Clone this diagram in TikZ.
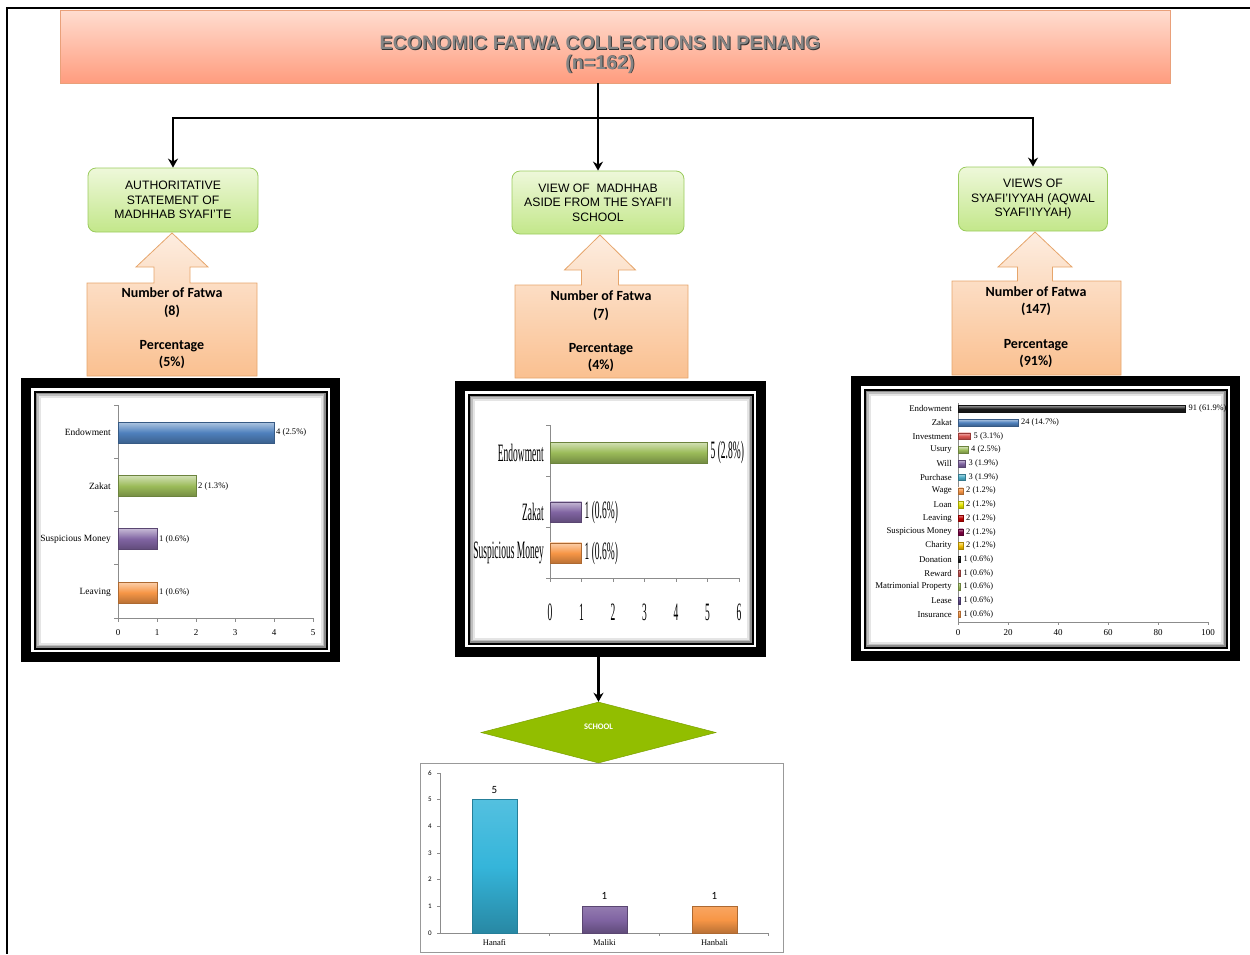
\documentclass[tikz,border=0pt]{standalone}
\usepackage{fontspec}
\setmainfont{Liberation Serif}
\newfontfamily\arialf{Liberation Sans}
\newfontfamily\calf{Carlito}
\usetikzlibrary{shapes.geometric,arrows.meta,fit}
\definecolor{xblue}{HTML}{4F81BD}
\definecolor{xgreen}{HTML}{9BBB59}
\definecolor{xpurple}{HTML}{8064A2}
\definecolor{xorange}{HTML}{F79646}
\definecolor{xred}{HTML}{D9534F}
\definecolor{xcyan}{HTML}{4BACC6}
\definecolor{xcyanb}{HTML}{35B5DA}
\definecolor{xyellow}{HTML}{E6E600}
\definecolor{xdred}{HTML}{C00000}
\definecolor{xmaroon}{HTML}{7A0040}
\definecolor{xgold}{HTML}{F2BE00}
\definecolor{xblack}{HTML}{1A1A1A}
\definecolor{xrose}{HTML}{C0504D}
\definecolor{xdpurple}{HTML}{5F4B8B}
\definecolor{ttop}{HTML}{FFDDD0}
\definecolor{tbot}{HTML}{FF9C7E}
\definecolor{tdraw}{HTML}{E9A07A}
\definecolor{gtop}{HTML}{EEF8DA}
\definecolor{gbot}{HTML}{C3E78A}
\definecolor{gdraw}{HTML}{9BCB5E}
\definecolor{ctop}{HTML}{FDEDE0}
\definecolor{cbot}{HTML}{FAC090}
\definecolor{cdraw}{HTML}{E6A56B}
\definecolor{schoolg}{HTML}{92BE00}
\newcommand\cnd[1]{\scalebox{0.38}[1]{#1}}
\newcommand\mkbar[5]{\shade[top color=#5!45!white, bottom color=#5!75!black, middle color=#5, draw=#5!70!black, line width=0.4pt] (#1,{#2-#4/2}) rectangle ({#1+#3},{#2+#4/2});}
\newcommand\mkcol[5]{\shade[top color=#5!85!white, bottom color=#5!75!black, middle color=#5, draw=#5!70!black, line width=0.4pt] (#1,#2) rectangle ({#1+#3},#4);}
\newcommand\upcallout[9]{\shade[top color=ctop, bottom color=cbot, draw=cdraw, line width=0.8pt] (#1,#4) -- (#1,#3) -- ({#5-#9},#3) -- ({#5-#9},#7) -- ({#5-#8},#7) -- (#5,#6) -- ({#5+#8},#7) -- ({#5+#9},#7) -- ({#5+#9},#3) -- (#2,#3) -- (#2,#4) -- cycle;}
\newcommand\chartframe[5]{%
  \fill[black] (#2,#3) rectangle (#4,#5);
  \fill[white] ({#2+10},{#3+10}) rectangle ({#4-10},{#5-10});
  \fill[black] ({#2+12.5},{#3+12.5}) rectangle ({#4-12.5},{#5-12.5});
  \fill[black!45] ({#2+14.5},{#3+14.5}) rectangle ({#4-14.5},{#5-14.5});
  \fill[black!25] ({#2+16},{#3+16}) rectangle ({#4-16},{#5-16});
  \fill[black!10] ({#2+17.5},{#3+17.5}) rectangle ({#4-17.5},{#5-17.5});
  \fill[white] ({#2+19.5},{#3+19.5}) rectangle ({#4-19.5},{#5-19.5});
  \node[fit={(#2,#3)(#4,#5)}, inner sep=0pt] (#1) {};
}
\begin{document}
\begin{tikzpicture}[x=1pt,y=-1pt,
  conn/.style={line width=2.2pt,-{Stealth[length=9pt,width=10pt]}},
  plain/.style={line width=2.2pt},
  greenbox/.style={rounded corners=8pt, top color=gtop, bottom color=gbot, draw=gdraw, line width=0.8pt, inner sep=0pt, align=center, font=\arialf\fontsize{12.2}{14.5}\selectfont},
  calltext/.style={align=center, font=\calf\bfseries\fontsize{14}{17.3}\selectfont, inner sep=0pt},
  axisc/.style={draw=black!45, line width=0.6pt},
  catL/.style={anchor=east, font=\fontsize{9.5}{10}\selectfont, inner sep=0pt},
  valL/.style={anchor=west, font=\fontsize{8.6}{9}\selectfont, inner sep=0pt},
  tickL/.style={font=\fontsize{9}{10}\selectfont, inner sep=0pt},
  catM/.style={anchor=east, font=\fontsize{25}{26}\selectfont, inner sep=0pt},
  valM/.style={anchor=west, font=\fontsize{25}{26}\selectfont, inner sep=0pt},
  catR/.style={anchor=east, font=\fontsize{8.8}{9}\selectfont, inner sep=0pt},
  valR/.style={anchor=west, font=\fontsize{8.4}{9}\selectfont, inner sep=0pt},
  titletext/.style={font=\arialf\bfseries\fontsize{19.6}{21}\selectfont, inner sep=0pt}
]
\useasboundingbox (0,0) rectangle (1250,954);
% page frame
\draw[line width=2pt] (1250,7.5) -- (7,7.5) -- (7,954);

% title
\node[top color=ttop, bottom color=tbot, draw=tdraw, line width=0.8pt, minimum width=1110, minimum height=73, inner sep=0pt] (tt) at (615,46.5) {};
\node[titletext, text=black!80] (t1s) at (600.9,43.9) {ECONOMIC FATWA COLLECTIONS IN PENANG};
\node[titletext, text=black!48] (t1) at (600,43) {ECONOMIC FATWA COLLECTIONS IN PENANG};
\node[titletext, text=black!80] (t2s) at (600.9,64.9) {(n=162)};
\node[titletext, text=black!48] (t2) at (600,64) {(n=162)};

% green boxes
\node[greenbox, minimum width=170, minimum height=64] (gl) at (173,200) {AUTHORITATIVE\\STATEMENT OF\\MADHHAB SYAFI’TE};
\node[greenbox, minimum width=172, minimum height=63] (gm) at (598,202.5) {VIEW OF~ MADHHAB\\ASIDE FROM THE SYAFI’I\\SCHOOL};
\node[greenbox, minimum width=149, minimum height=64] (gr) at (1033,199) {VIEWS OF\\SYAFI’IYYAH (AQWAL\\SYAFI’IYYAH)};

% connectors from title
\coordinate (j) at (598,118);
\draw[plain] (tt.south -| j) -- (j);
\draw[conn] (j) -| (gl.north);
\draw[conn] (j) -- (gm.north);
\draw[conn] (j) -| (gr.north);

% orange up-arrow callouts
\upcallout{87}{257}{283}{376}{172}{233}{267}{36}{18}
\upcallout{515}{688}{285}{378}{600}{235}{270}{35.5}{18.5}
\upcallout{952}{1121}{281}{375}{1035}{232}{267}{37}{17.5}
\node[calltext] (cl) at (172,328.5) {Number of Fatwa\\(8)\\[17.3pt]Percentage\\(5\%)};
\node[calltext] (cm) at (601,331.5) {Number of Fatwa\\(7)\\[17.3pt]Percentage\\(4\%)};
\node[calltext] (cr) at (1036,327) {Number of Fatwa\\(147)\\[17.3pt]Percentage\\(91\%)};

% chart frames
\chartframe{fl}{21}{378}{340}{662}
\chartframe{fm}{455}{381}{766}{657}
\chartframe{fr}{851}{376}{1240}{661}

% ---- left chart
\draw[axisc] (118,405) -- (118,618) -- (313,618);
\foreach \yy in {405,458.25,511.5,564.75,618} \draw[axisc] (114,\yy) -- (118,\yy);
\foreach \k in {0,...,5} {
  \draw[axisc] ({118+39*\k},618) -- ({118+39*\k},622);
  \node[tickL] (lt\k) at ({118+39*\k},633) {\k};
}
\foreach \lab/\v/\c/\yy/\t [count=\i] in {Endowment/4/xblue/432.5/4 (2.5\%),Zakat/2/xgreen/486/2 (1.3\%),Suspicious Money/1/xpurple/539/1 (0.6\%),Leaving/1/xorange/592.5/1 (0.6\%)} {
  \mkbar{118}{\yy}{39*\v}{21}{\c}
  \node[catL] (L\i) at (111,\yy) {\lab};
  \node[valL] (Lv\i) at ({118+39*\v+2},\yy) {\t};
}

% ---- middle chart
\draw[axisc] (550,425) -- (550,578) -- (739,578);
\foreach \yy in {425,476,527,578} \draw[axisc] (546,\yy) -- (550,\yy);
\foreach \k in {0,...,6} {
  \draw[axisc] ({550+31.5*\k},578) -- ({550+31.5*\k},582);
  \node[font=\fontsize{25}{26}\selectfont, inner sep=0pt] (mt\k) at ({550+31.5*\k},612) {\cnd{\k}};
}
\foreach \lab/\v/\c/\yy/\t [count=\i] in {Endowment/5/xgreen/452.5/5 (2.8\%),Zakat/1/xpurple/512/1 (0.6\%),Suspicious Money/1/xorange/553/1 (0.6\%)} {
  \mkbar{550}{\yy}{31.5*\v}{20.5}{\c}
  \node[catM] (M\i) at (544,\yy) {\cnd{\lab}};
  \node[valM] (Mv\i) at ({550+31.5*\v+3},\yy) {\cnd{\t}};
}

% ---- right chart
\draw[axisc] (958,403) -- (958,622) -- (1208,622);
\foreach \k in {0,...,5} {
  \draw[axisc] ({958+50*\k},622) -- ({958+50*\k},625);
  \pgfmathtruncatemacro\tv{20*\k}
  \node[tickL] (rt\k) at ({958+50*\k},633) {\tv};
}
\foreach \lab/\v/\c/\t [count=\i] in {Endowment/91/xblack/91 (61.9\%),Zakat/24/xblue/24 (14.7\%),Investment/5/xred/5 (3.1\%),Usury/4/xgreen/4 (2.5\%),Will/3/xpurple/3 (1.9\%),Purchase/3/xcyan/3 (1.9\%),Wage/2/xorange/2 (1.2\%),Loan/2/xyellow/2 (1.2\%),Leaving/2/xdred/2 (1.2\%),Suspicious Money/2/xmaroon/2 (1.2\%),Charity/2/xgold/2 (1.2\%),Donation/1/xblack/1 (0.6\%),Reward/1/xrose/1 (0.6\%),Matrimonial Property/1/xgreen/1 (0.6\%),Lease/1/xdpurple/1 (0.6\%),Insurance/1/xorange/1 (0.6\%)} {
  \pgfmathsetmacro\yy{408.8+13.69*(\i-1)}
  \mkbar{958}{\yy}{2.5*\v}{6.5}{\c}
  \node[catR] (R\i) at (952,\yy) {\lab};
  \node[valR] (Rv\i) at ({958+2.5*\v+3},\yy) {\t};
}

% ---- school diamond and bottom chart
\node[draw=black!40, line width=0.8pt, fill=white, minimum width=363, minimum height=189, inner sep=0pt] (bc) at (601.5,857.5) {};
\node[diamond, fill=schoolg, draw=schoolg!85!black, line width=0.5pt, minimum width=235, minimum height=61, inner sep=0pt] (dm) at (598.5,732.5) {};
\node[font=\calf\bfseries\fontsize{8.5}{9}\selectfont, text=white, inner sep=0pt] (dmt) at (598.5,727) {SCHOOL};
\draw[conn] (dm.north |- fm.south) -- (dm.north);

\draw[axisc] (440,773) -- (440,933) -- (768,933);
\foreach \k in {0,...,6} {
  \draw[axisc] (437,{933-26.67*\k}) -- (440,{933-26.67*\k});
  \node[font=\calf\fontsize{7}{8}\selectfont, inner sep=0pt] (bt\k) at (430,{933-26.67*\k}) {\k};
}
\foreach \xx in {549,659,768} \draw[axisc] (\xx,933) -- (\xx,936);
\foreach \lab/\v/\c/\xx [count=\i] in {Hanafi/5/xcyanb/472,Maliki/1/xpurple/582,Hanbali/1/xorange/692} {
  \mkcol{\xx}{933-26.67*\v}{45}{933}{\c}
  \node[font=\calf\fontsize{11}{12}\selectfont, inner sep=0pt] (Bv\i) at ({\xx+22.5},{933-26.67*\v-10}) {\v};
  \node[font=\fontsize{8.5}{9}\selectfont, inner sep=0pt] (B\i) at ({\xx+22.5},942.5) {\lab};
}
\end{tikzpicture}
\end{document}
